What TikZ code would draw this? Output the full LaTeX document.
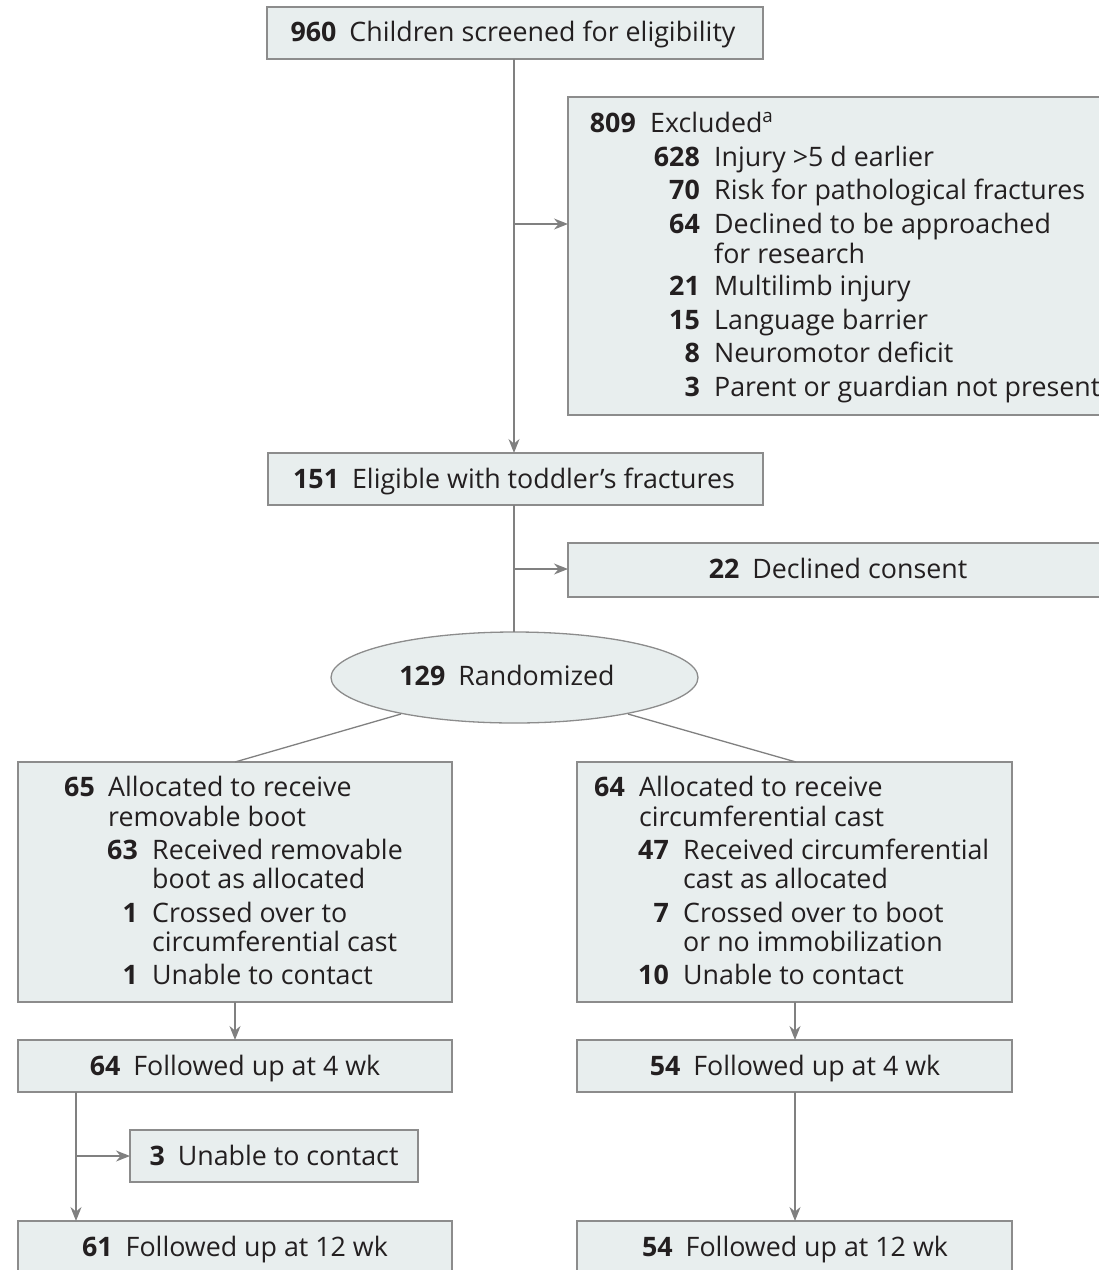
\documentclass[tikz,border=0pt]{standalone}
\usepackage{fontspec}
\setmainfont{Open Sans}
\usetikzlibrary{arrows.meta,shapes.geometric}
\definecolor{boxfill}{HTML}{E8EEEE}
\definecolor{boxline}{HTML}{8C8C8C}
\definecolor{ink}{HTML}{231F20}
\definecolor{arr}{HTML}{808080}
\newcommand{\gap}{\hspace{13pt}}
\tikzset{
  box/.style={draw=boxline, fill=boxfill, line width=1.3pt, inner sep=0pt},
  conn/.style={draw=arr, line width=1.3pt},
  arrow/.style={conn, -{Stealth[length=14pt,width=11pt]}},
  num/.style={font=\fontsize{26.8}{30}\selectfont\bfseries, text=ink, inner sep=0pt, anchor=base east},
  txt/.style={font=\fontsize{26.8}{30}\selectfont, text=ink, inner sep=0pt, anchor=base west},
  ctxt/.style={font=\fontsize{26.8}{30}\selectfont, text=ink, inner sep=0pt, anchor=base},
}
\begin{document}
\begin{tikzpicture}[x=1pt,y=-1pt]
\useasboundingbox (0,0) rectangle (1099,1270);
\clip (0,0) rectangle (1099,1270);
% boxes
\path[box] (267,7) rectangle (763,59);
\coordinate (b1) at (514,59);
\node[ctxt] (t1) at (513,41) {\textbf{960}\gap Children screened for eligibility};

\path[box] (568,97) rectangle (1110,415);
\coordinate (exL) at (568,224);
\node[num] (e0n) at (636,132) {809};
\node[txt] (e0t) at (650,132) {Excluded\textsuperscript{a}};
\node[num] (e1n) at (700,166) {628};
\node[txt] (e1t) at (714,166) {Injury >5 d earlier};
\node[num] (e2n) at (700,199) {70};
\node[txt] (e2t) at (714,199) {Risk for pathological fractures};
\node[num] (e3n) at (700,233) {64};
\node[txt] (e3t) at (714,233) {Declined to be approached};
\node[txt] (e3u) at (714,263) {for research};
\node[num] (e4n) at (700,295) {21};
\node[txt] (e4t) at (714,295) {Multilimb injury};
\node[num] (e5n) at (700,329) {15};
\node[txt] (e5t) at (714,329) {Language barrier};
\node[num] (e6n) at (700,362) {8};
\node[txt] (e6t) at (714,362) {Neuromotor deficit};
\node[num] (e7n) at (700,396) {3};
\node[txt] (e7t) at (714,396) {Parent or guardian not present};

\path[box] (268,453) rectangle (763,505);
\coordinate (b2top) at (514,453);
\coordinate (b2bot) at (514,505);
\node[ctxt] (t2) at (514,488) {\textbf{151}\gap Eligible with toddler’s fractures};

\path[box] (568,543) rectangle (1110,597);
\coordinate (dcL) at (568,569);
\node[ctxt] (t3) at (838,578) {\textbf{22}\gap Declined consent};

\node[ellipse, box, minimum width=367pt, minimum height=91pt] (rand) at (514.5,677.5) {};
\node[ctxt] (t4) at (507,685) {\textbf{129}\gap Randomized};

% allocation boxes
\path[box] (18,762) rectangle (452,1002);
\path[box] (577,762) rectangle (1012,1002);
\coordinate (aLtop) at (235,762);
\coordinate (aRtop) at (796,762);
\coordinate (aLbot) at (235,1002);
\coordinate (aRbot) at (795,1002);

\node[num] (l0n) at (95,796) {65};
\node[txt] (l0t) at (108,796) {Allocated to receive};
\node[txt] (l0u) at (108,826) {removable boot};
\node[num] (l1n) at (138,859) {63};
\node[txt] (l1t) at (152,859) {Received removable};
\node[txt] (l1u) at (152,888) {boot as allocated};
\node[num] (l2n) at (138,922) {1};
\node[txt] (l2t) at (152,922) {Crossed over to};
\node[txt] (l2u) at (152,951) {circumferential cast};
\node[num] (l3n) at (138,984) {1};
\node[txt] (l3t) at (152,984) {Unable to contact};

\node[num] (r0n) at (625,796) {64};
\node[txt] (r0t) at (639,796) {Allocated to receive};
\node[txt] (r0u) at (639,826) {circumferential cast};
\node[num] (r1n) at (669,859) {47};
\node[txt] (r1t) at (683,859) {Received circumferential};
\node[txt] (r1u) at (683,888) {cast as allocated};
\node[num] (r2n) at (669,922) {7};
\node[txt] (r2t) at (683,922) {Crossed over to boot};
\node[txt] (r2u) at (683,951) {or no immobilization};
\node[num] (r3n) at (669,984) {10};
\node[txt] (r3t) at (683,984) {Unable to contact};

% follow-up 4 wk
\path[box] (18,1040) rectangle (452,1092);
\path[box] (577,1040) rectangle (1012,1092);
\coordinate (fLtop) at (235,1040);
\coordinate (fRtop) at (795,1040);
\coordinate (fLbot) at (76,1092);
\coordinate (fRbot) at (795,1092);
\node[ctxt] (t5) at (235,1075) {\textbf{64}\gap Followed up at 4 wk};
\node[ctxt] (t6) at (795,1075) {\textbf{54}\gap Followed up at 4 wk};

% unable to contact
\path[box] (130,1130) rectangle (418,1182);
\coordinate (uL) at (130,1156);
\coordinate (uJ) at (76,1156);
\node[ctxt] (t7) at (274,1165) {\textbf{3}\gap Unable to contact};

% follow-up 12 wk
\path[box] (18,1221) rectangle (452,1290);
\path[box] (577,1221) rectangle (1012,1290);
\coordinate (gLtop) at (76,1221);
\coordinate (gRtop) at (795,1221);
\node[ctxt] (t8) at (235,1256) {\textbf{61}\gap Followed up at 12 wk};
\node[ctxt] (t9) at (795,1256) {\textbf{54}\gap Followed up at 12 wk};

% connectors
\coordinate (j1) at (514,224);
\draw[arrow] (b1) -- (b2top);
\draw[arrow] (j1) -- (exL);
\coordinate (j2) at (514,569);
\coordinate (randtop) at (514,632);
\draw[conn] (b2bot) -- (randtop);
\draw[arrow] (j2) -- (dcL);
\coordinate (rl) at (401,714);
\coordinate (rr) at (628,714);
\draw[conn] (rl) -- (aLtop);
\draw[conn] (rr) -- (aRtop);
\draw[arrow] (aLbot) -- (fLtop);
\draw[arrow] (aRbot) -- (fRtop);
\draw[arrow] (fLbot) -- (gLtop);
\draw[arrow] (uJ) -- (uL);
\draw[arrow] (fRbot) -- (gRtop);
\end{tikzpicture}
\end{document}
